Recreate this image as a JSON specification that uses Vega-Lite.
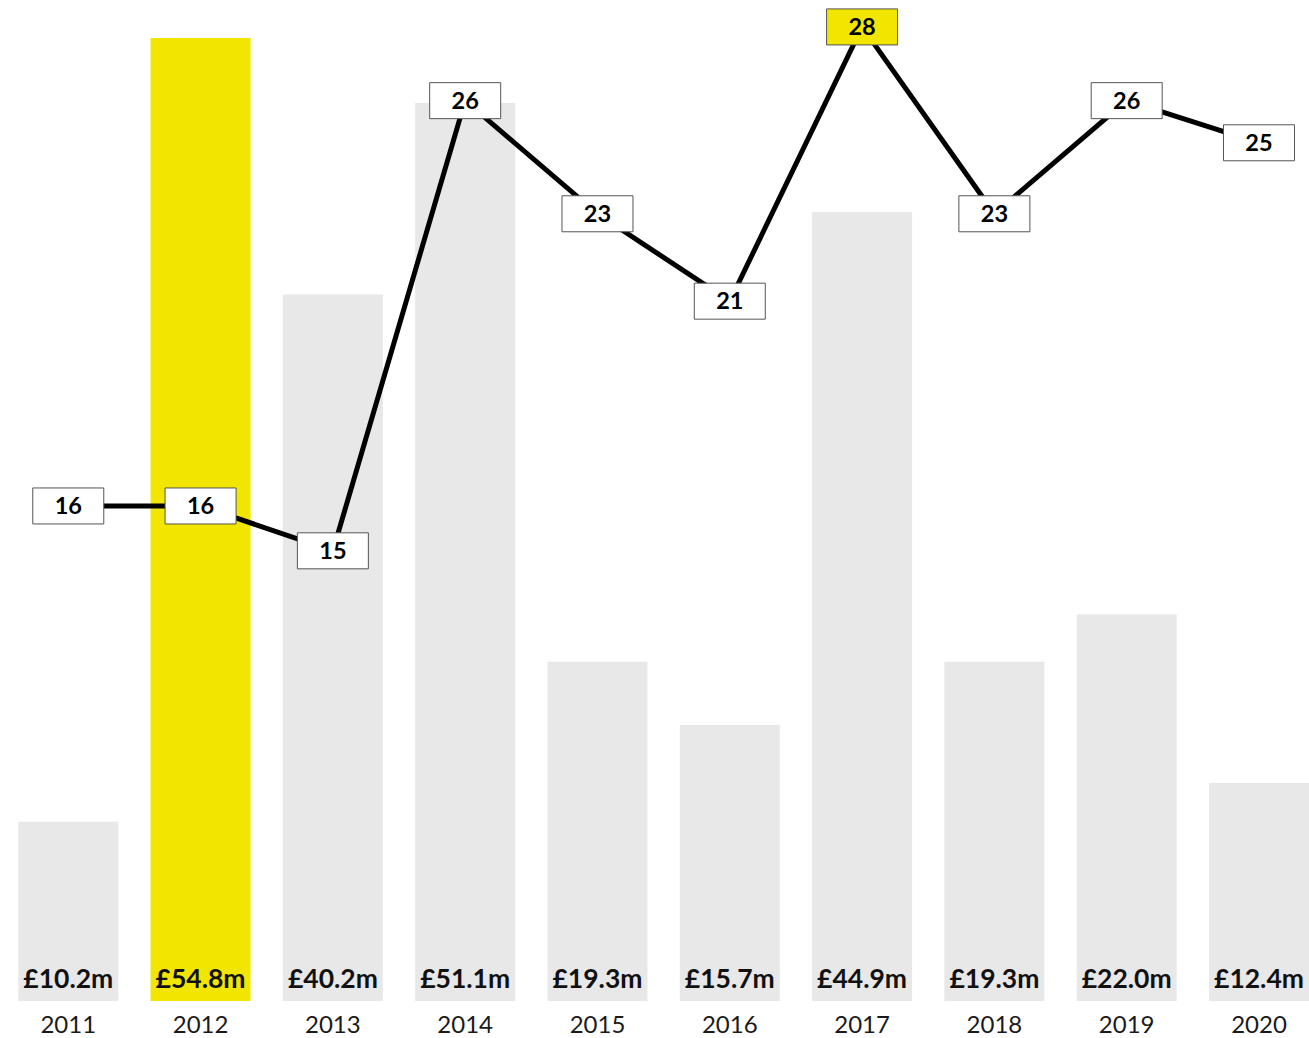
{
  "$schema": "https://vega.github.io/schema/vega-lite/v6.json",
  "width": 1309,
  "height": 1001,
  "padding": 0,
  "autosize": {"type": "pad"},
  "background": "white",
  "config": {"view": {"stroke": null}},
  "data": {
    "values": [
      {"year": "2011", "amount": 10.2, "amountLabel": "£10.2m", "count": 15.82},
      {"year": "2012", "amount": 54.8, "amountLabel": "£54.8m", "count": 15.82},
      {"year": "2013", "amount": 40.2, "amountLabel": "£40.2m", "count": 14.67},
      {"year": "2014", "amount": 51.1, "amountLabel": "£51.1m", "count": 26.21},
      {"year": "2015", "amount": 19.3, "amountLabel": "£19.3m", "count": 23.31},
      {"year": "2016", "amount": 15.7, "amountLabel": "£15.7m", "count": 21.07},
      {"year": "2017", "amount": 44.9, "amountLabel": "£44.9m", "count": 28.1},
      {"year": "2018", "amount": 19.3, "amountLabel": "£19.3m", "count": 23.31},
      {"year": "2019", "amount": 22.0, "amountLabel": "£22.0m", "count": 26.21},
      {"year": "2020", "amount": 12.4, "amountLabel": "£12.4m", "count": 25.13}
    ]
  },
  "encoding": {
    "x": {
      "field": "year",
      "type": "ordinal",
      "title": null,
      "scale": {"type": "band", "paddingInner": 0.244, "paddingOuter": 0.069, "align": 1},
      "axis": {
        "domain": false,
        "ticks": false,
        "tickSize": 0,
        "grid": false,
        "labelAngle": 0,
        "labelPadding": 12,
        "labelFont": "Lato",
        "labelFontSize": 24,
        "labelColor": "#1a1a1a",
        "labelFontWeight": "normal"
      }
    }
  },
  "layer": [
    {
      "layer": [
        {
          "mark": {"type": "bar"},
          "encoding": {
            "y": {"field": "amount", "type": "quantitative", "scale": {"domain": [0, 56.96], "nice": false}, "axis": null},
            "color": {"condition": {"test": "datum.year === '2012'", "value": "#f2e600"}, "value": "#e8e8e8"}
          }
        },
        {
          "mark": {"type": "text", "baseline": "alphabetic", "dy": -13, "font": "Lato", "fontSize": 26.5, "fontWeight": "bold", "color": "#111111"},
          "encoding": {
            "y": {"datum": 0, "type": "quantitative"},
            "text": {"field": "amountLabel", "type": "nominal"}
          }
        }
      ]
    },
    {
      "layer": [
        {
          "mark": {"type": "line", "color": "#000000", "strokeWidth": 5},
          "encoding": {
            "y": {"field": "count", "type": "quantitative", "scale": {"domain": [3.13, 28.79], "nice": false, "zero": false}, "axis": null}
          }
        },
        {
          "mark": {"type": "rect", "width": 71, "height": 36, "stroke": "#555555", "strokeWidth": 1},
          "encoding": {
            "y": {"field": "count", "type": "quantitative"},
            "fill": {"condition": {"test": "datum.year === '2017'", "value": "#f2e600"}, "value": "#ffffff"}
          }
        },
        {
          "mark": {"type": "text", "baseline": "middle", "dy": 1, "font": "Lato", "fontSize": 23.5, "fontWeight": "bold", "color": "#000000"},
          "encoding": {
            "y": {"field": "count", "type": "quantitative"},
            "text": {"field": "count", "type": "quantitative", "format": ".0f"}
          }
        }
      ]
    }
  ],
  "resolve": {"scale": {"y": "independent"}}
}
